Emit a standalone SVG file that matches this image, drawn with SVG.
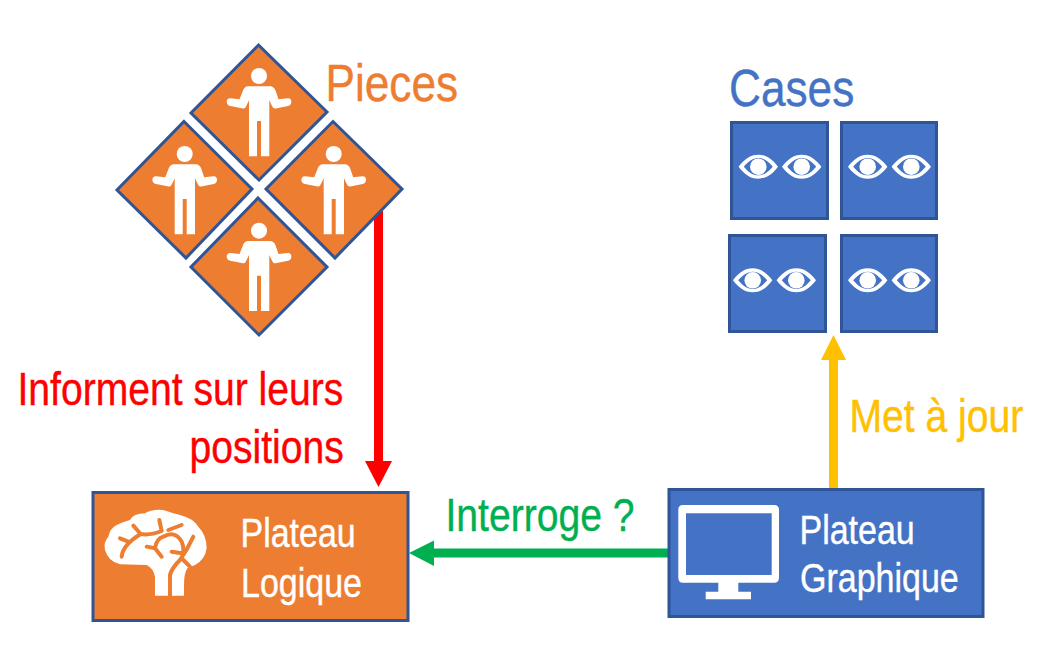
<svg xmlns="http://www.w3.org/2000/svg" width="1037" height="648" viewBox="0 0 1037 648">
<style>
text{font-family:"Liberation Sans",Arial,sans-serif;stroke-width:.4}
.box{stroke:#2f5597;stroke-width:3}
.o{fill:#ed7d31}
.b{fill:#4472c4}
.w{fill:#fff}
.lb{font-size:40px;fill:#fff;stroke:#fff}
.big{font-size:52px}
.lab{font-size:46px}
.br{fill:none;stroke:#ed7d31;stroke-width:12;stroke-linecap:round;stroke-linejoin:round}
</style>
<defs>
<g id="person">
<circle cx="0" cy="0" r="8" fill="#fff"/>
<path fill="#fff" d="M-10.7 10.3H11Q15 10.5 16.5 14.5L19.5 23.2L29 22.3C33.500 22 33.500 29.500 29 30L16.5 32.500Q14 33 12.8 29.500L10.3 24.3V80.3H2V45H-2V80.3H-10V24.3L-12.5 29.500Q-13.7 33-16 32.500L-28.7 30C-33.500 29.500-33.500 22-28.7 22.300L-19.5 23.2L-16 14.5Q-14.7 10.5-10.7 10.3Z"/>
</g>
<g id="eye">
<path fill="#fff" fill-rule="evenodd" d="M-19.7 0C-14 -7.5 -8 -12 0 -12C8 -12 14 -7.5 19.7 0C14 7.5 8 12 0 12C-8 12 -14 7.5 -19.7 0ZM-14.5 0C-10 5 -6 8.600 0 8.600C6 8.600 10 5 14.5 0C10 -5 6 -8.600 0 -8.600C-6 -8.600 -10 -5 -14.5 0Z"/>
<circle r="8.300" fill="#fff"/>
</g>
</defs>
<g id="connectors" fill="none" stroke-width="9">
<path d="M378.500 205V464" stroke="#ff0000"/><path d="M365 461H392L378.500 487Z" fill="#ff0000"/>
<path d="M668 553H430" stroke="#00b050"/><path d="M434 540.500V566L409 553Z" fill="#00b050"/>
<path d="M833.500 489V355" stroke="#ffc000"/><path d="M821 360H846L833.500 335Z" fill="#ffc000"/>
</g>
<g id="piece-top"><path class="o box" d="M258.500 45L327 112L259 180L191 113Z"/><use href="#person" x="259" y="76"/></g>
<g id="piece-left"><path class="o box" d="M184 121.500L252 189L186 258L117 190Z"/><use href="#person" x="184.700" y="154"/></g>
<g id="piece-right"><path class="o box" d="M333 121.500L402 189L335 258L266 189Z"/><use href="#person" x="333.700" y="154"/></g>
<g id="piece-bottom"><path class="o box" d="M258 198L327 267L259 335L191 267Z"/><use href="#person" x="259" y="230.700"/></g>
<g id="pieces-label"><text transform="translate(325.500 101) scale(.85 1)" class="big o" stroke="#ed7d31">Pieces</text></g>
<g id="cases-label"><text transform="translate(729 106) scale(.85 1)" class="big b" stroke="#4472c4">Cases</text></g>
<g id="case-1"><rect class="b box" x="731.500" y="122.500" width="96" height="96"/><use href="#eye" x="758.300" y="166.700"/><use href="#eye" x="801.700" y="166.700"/></g>
<g id="case-2"><rect class="b box" x="841.500" y="122.500" width="95" height="96"/><use href="#eye" x="867.700" y="166.700"/><use href="#eye" x="911.300" y="166.700"/></g>
<g id="case-3"><rect class="b box" x="729.500" y="235.500" width="96" height="96"/><use href="#eye" x="752.700" y="280.300"/><use href="#eye" x="796.300" y="280.300"/></g>
<g id="case-4"><rect class="b box" x="841.500" y="235.500" width="95" height="96"/><use href="#eye" x="867.700" y="280.300"/><use href="#eye" x="911.300" y="280.300"/></g>
<g id="plateau-logique">
<rect class="o box" x="93" y="492.500" width="315" height="128"/>
<g transform="translate(100 505) scale(.3333)">
<path fill="#fff" d="M165 272V215Q160 190 140 180L60 178Q25 170 15 135Q10 110 25 95Q30 70 50 60Q70 50 90 45Q100 25 135 25Q155 12 190 15Q220 25 240 30Q280 40 295 65Q320 90 320 130Q315 165 285 180L262 190Q252 205 252 240V272Z"/>
<path class="br" d="M100 62L122 87Q150 92 185 78L178 45M205 75L245 60M60 100L85 110M65 155Q68 120 122 87M140 125L165 130L185 155M165 130Q170 100 190 95Q225 75 245 110Q252 125 250 140M215 140L245 145"/>
<path class="br" stroke-linecap="butt" d="M210 275V210Q215 190 240 165L262 130L280 95M250 165L270 185"/>
</g>
<text transform="translate(240.500 547) scale(.85 1)" class="lb">Plateau</text>
<text transform="translate(241 597) scale(.85 1)" class="lb">Logique</text>
</g>
<g id="plateau-graphique">
<rect class="b box" x="669" y="489.500" width="314" height="127"/>
<path class="w" fill-rule="evenodd" d="M683 505H774Q779 505 779 510V577.700Q779 582.700 774 582.700H738.300V591.700H751V599.300H705.700V591.700H718.300V582.700H683Q678.300 582.700 678.300 577.700V510Q678.300 505 683 505ZM686 513.300V575H771.700V513.300Z"/>
<text transform="translate(799.500 543.500) scale(.85 1)" class="lb">Plateau</text>
<text transform="translate(800 592) scale(.85 1)" class="lb">Graphique</text>
</g>
<g id="labels">
<text transform="translate(17.500 404.800) scale(.85 1)" class="lab" fill="#ff0000" stroke="#ff0000">Informent sur leurs</text>
<text transform="translate(189.500 462.500) scale(.85 1)" class="lab" fill="#ff0000" stroke="#ff0000">positions</text>
<text transform="translate(445.500 531) scale(.85 1)" class="lab" fill="#00b050" stroke="#00b050">Interroge ?</text>
<text transform="translate(849.500 432.300) scale(.85 1)" class="lab" fill="#ffc000" stroke="#ffc000">Met à jour</text>
</g>
</svg>
